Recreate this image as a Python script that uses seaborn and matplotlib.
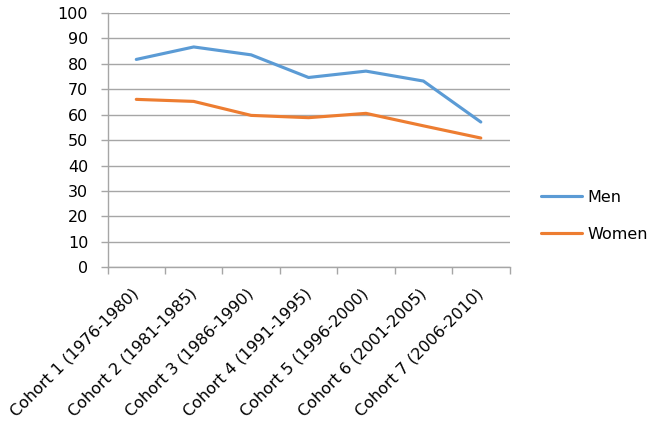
import matplotlib
matplotlib.use("Agg")
import matplotlib.pyplot as plt
import seaborn as sns
import pandas as pd
import numpy as np

categories = ["Cohort 1 (1976-1980)", "Cohort 2 (1981-1985)", "Cohort 3 (1986-1990)",
              "Cohort 4 (1991-1995)", "Cohort 5 (1996-2000)", "Cohort 6 (2001-2005)",
              "Cohort 7 (2006-2010)"]
men = [81.7, 86.6, 83.5, 74.6, 77.1, 73.2, 57.1]
women = [66.0, 65.2, 59.7, 58.8, 60.5, 55.6, 50.8]
y_ticks = list(range(0, 101, 10))

sns.set_style("white")
plt.rcParams['font.family'] = ['DejaVu Sans']
plt.rcParams['text.color'] = '#000000'
plt.rcParams['xtick.color'] = '#000000'
plt.rcParams['ytick.color'] = '#000000'

df = pd.DataFrame({
    "pos": list(range(len(categories))) * 2,
    "value": men + women,
    "series": ["Men"] * len(men) + ["Women"] * len(women),
})

grid_col = "#A6A6A6"
fs = 11.5

fig = plt.figure(figsize=(6.6, 4.29), dpi=100)
ax = fig.add_axes([0.163, 0.377, 0.609, 0.593])

sns.lineplot(data=df, x="pos", y="value", hue="series",
             palette={"Men": "#5B9BD5", "Women": "#ED7D31"},
             linewidth=2.25, ax=ax, legend=True)

ax.set_ylim(0, 100)
ax.set_xlim(-0.5, len(categories) - 0.5)
ax.set_yticks(y_ticks)
ax.set_yticklabels([str(v) for v in y_ticks], fontsize=fs, color="#000000")
ax.yaxis.grid(True, color=grid_col, linewidth=1.0)
ax.set_axisbelow(True)
ax.tick_params(axis="y", length=5, width=1.0, color=grid_col, labelcolor="#000000",
               pad=9, left=True)

ax.set_xticks(range(len(categories)))
ax.set_xticklabels(categories, rotation=45, ha="right", va="center",
                   rotation_mode="anchor", fontsize=fs, color="#000000")
ax.set_xticks(np.arange(-0.5, len(categories), 1.0), minor=True)
ax.tick_params(axis="x", which="major", length=0, pad=17, labelcolor="#000000")
ax.tick_params(axis="x", which="minor", length=5, color=grid_col, width=1.0, bottom=True)

for s in ["top", "right"]:
    ax.spines[s].set_visible(False)
for s in ["bottom", "left"]:
    ax.spines[s].set_color(grid_col)
    ax.spines[s].set_linewidth(1.0)

ax.set_xlabel("")
ax.set_ylabel("")

handles, labels = ax.get_legend_handles_labels()
leg = ax.legend(handles, labels, loc="center left", bbox_to_anchor=(0.819, 0.497),
                bbox_transform=fig.transFigure, frameon=False, fontsize=fs,
                handlelength=2.6, labelspacing=1.35, handletextpad=0.35,
                borderpad=0, borderaxespad=0)
for t in leg.get_texts():
    t.set_color("#000000")

fig.savefig("out.png", dpi=100)
